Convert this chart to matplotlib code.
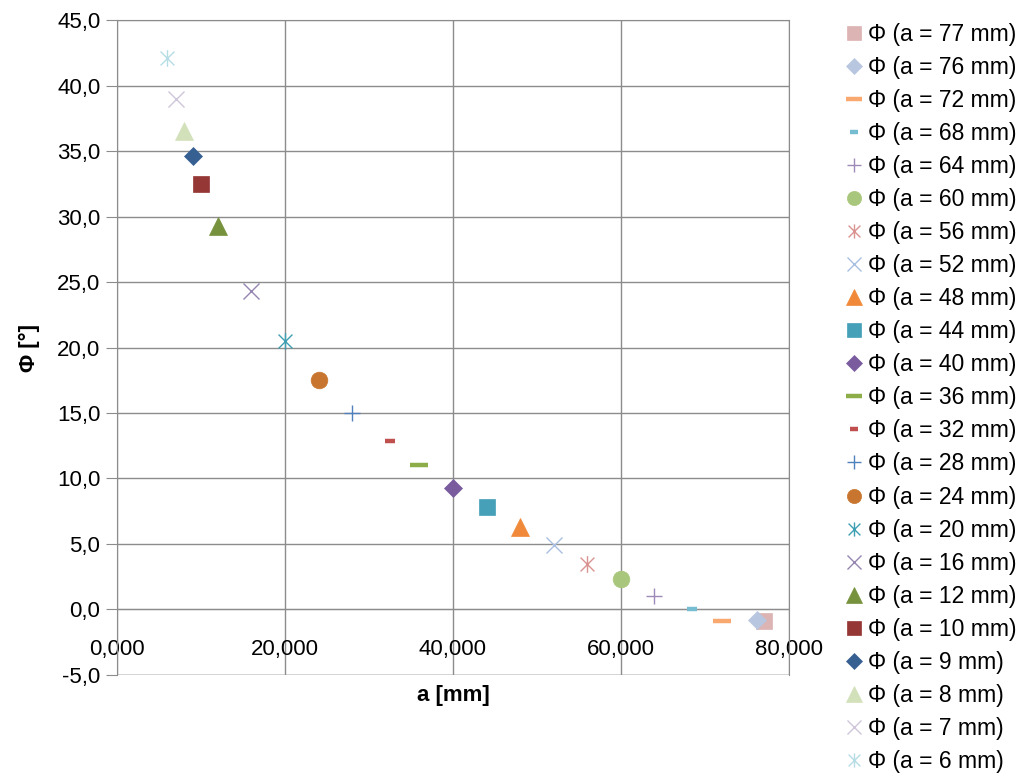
import matplotlib
matplotlib.use("Agg")
import matplotlib.pyplot as plt
from matplotlib.path import Path
from matplotlib.ticker import FuncFormatter, MultipleLocator

plt.rcParams["font.family"] = ["Liberation Sans", "DejaVu Sans"]

# series, top of legend first
a_mm = [77, 76, 72, 68, 64, 60, 56, 52, 48, 44, 40, 36, 32, 28, 24, 20, 16, 12, 10, 9, 8, 7, 6]
x_vals = [77100, 76200, 72000, 68500, 64000, 60000, 56000, 52000, 48000, 44000, 40000, 36000,
          32500, 28000, 24000, 20000, 16000, 12000, 10000, 9000, 8000, 7000, 6000]
phi_vals = [-0.9, -0.8, -0.9, 0.0, 1.0, 2.3, 3.5, 4.9, 6.3, 7.8, 9.3, 11.0,
            12.9, 15.0, 17.5, 20.5, 24.3, 29.3, 32.5, 34.6, 36.5, 39.0, 42.1]
kinds = ["square", "diamond", "dash", "sdash", "plus", "circle", "star", "cross",
         "tri", "square", "diamond", "dash", "sdash", "plus", "circle", "star", "cross",
         "tri", "square", "diamond", "tri", "cross", "star"]
colors = ["#dcb4b3", "#b8c6df", "#f9a870", "#77bdd2", "#9d8ab8", "#a9c77c", "#d99492",
          "#a9bfe2", "#f08a3a", "#46a0b8", "#7a5c9e", "#8cad48", "#c0504d", "#4f81bd",
          "#c8762f", "#3f9fb2", "#9585b0", "#76923c", "#953735", "#376092", "#d3e1bb",
          "#cfc6dc", "#b6dce6"]

star_path = Path([(-0.5, -0.5), (0.5, 0.5), (-0.5, 0.5), (0.5, -0.5), (0, -0.6), (0, 0.6)],
                 [Path.MOVETO, Path.LINETO, Path.MOVETO, Path.LINETO, Path.MOVETO, Path.LINETO])

styles = {
    "square": dict(marker="s", markersize=12, filled=True),
    "diamond": dict(marker="D", markersize=9.5, filled=True),
    "dash": dict(marker="_", markersize=13, markeredgewidth=3.2),
    "sdash": dict(marker="_", markersize=7.5, markeredgewidth=3.2),
    "plus": dict(marker="+", markersize=12, markeredgewidth=1.0),
    "circle": dict(marker="o", markersize=12, filled=True),
    "star": dict(marker=star_path, markersize=12, markeredgewidth=1.0),
    "cross": dict(marker="x", markersize=12, markeredgewidth=1.0),
    "tri": dict(marker="^", markersize=13, filled=True),
}

fig = plt.figure(figsize=(10.21, 7.74), dpi=100)
ax = fig.add_axes([0.1146, 0.128, 0.658, 0.846])

for a, x, y, k, c in zip(a_mm, x_vals, phi_vals, kinds, colors):
    st = dict(styles[k])
    filled = st.pop("filled", False)
    if filled:
        st.update(markerfacecolor=c, markeredgecolor=c, markeredgewidth=0.5)
    else:
        st.update(markerfacecolor="none", markeredgecolor=c)
    ax.plot([x], [y], linestyle="none", label=f"Φ (a = {a} mm)", zorder=3, **st)

ax.set_xlim(0, 80000)
ax.set_ylim(-5, 45)
ax.xaxis.set_major_locator(MultipleLocator(20000))
ax.yaxis.set_major_locator(MultipleLocator(5))
ax.xaxis.set_major_formatter(FuncFormatter(lambda v, p: f"{int(v) // 1000},000"))
ax.yaxis.set_major_formatter(FuncFormatter(lambda v, p: f"{v:.1f}".replace(".", ",")))

ax.grid(True, color="#8c8c8c", linewidth=1.0, zorder=0)
ax.set_axisbelow(True)
for side in ["top", "right", "left"]:
    ax.spines[side].set_color("#8c8c8c")
ax.spines["bottom"].set_position(("data", 0))
ax.spines["bottom"].set_color("#8c8c8c")
ax.axhline(-5, color="#8c8c8c", linewidth=1.0, zorder=0)
ax.tick_params(axis="y", length=8, color="#8c8c8c", labelsize=16, pad=4)
ax.tick_params(axis="x", length=0, labelsize=16, pad=21)

ax.set_xlabel("a [mm]", fontsize=16, fontweight="bold")
ax.xaxis.set_label_coords(0.5, -0.015)
ax.set_ylabel("Φ [°]", fontsize=16, fontweight="bold", labelpad=12)

fig.legend(loc="upper left", bbox_to_anchor=(0.818, 0.9825), frameon=False,
           fontsize=16.5, handlelength=0.8, handletextpad=0.25, labelspacing=0.439,
           markerscale=0.85, borderaxespad=0)

fig.savefig("out.png", dpi=100)
